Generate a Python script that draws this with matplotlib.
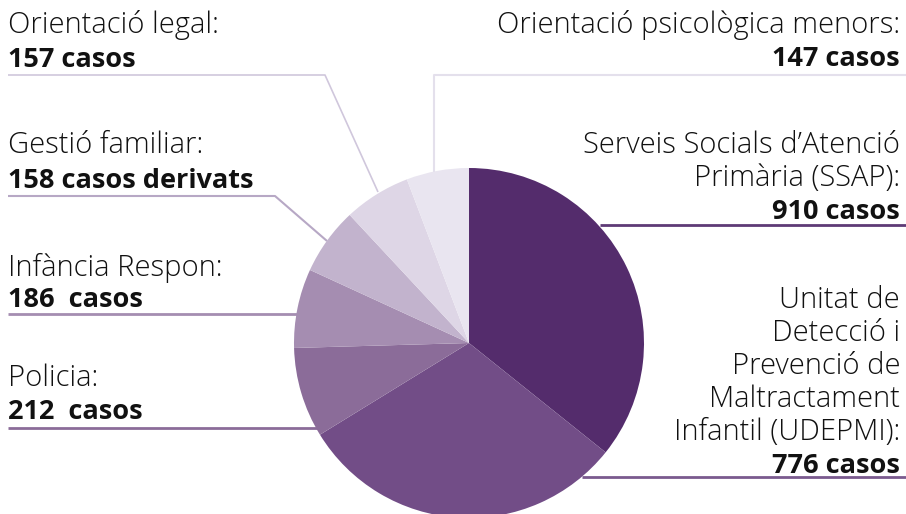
import matplotlib.pyplot as plt

# slices, clockwise from 12 o'clock
labels = ['Serveis Socials d\u2019Atenció Primària (SSAP)',
          'Unitat de Detecció i Prevenció de Maltractament Infantil (UDEPMI)',
          'Policia', 'Infància Respon', 'Gestió familiar',
          'Orientació legal', 'Orientació psicològica menors']
cases = [910, 776, 212, 186, 158, 157, 147]
colors = ['#542C6C', '#724D87', '#8B6C99', '#A58DB1', '#C2B3CD', '#DED6E6', '#E9E5F0']
line_colors = ['#5E3A76', '#7A5A8E', '#8B6C99', '#A58DB1', '#B7A8C5', '#D0C7DC', '#E4E0EC']

W, H = 906, 514
fig = plt.figure(figsize=(W / 100, H / 100), dpi=100)
ax = fig.add_axes([0, 0, 1, 1])

cx, cy, r = 469, H - 343, 175
ax.pie(cases, colors=colors, startangle=90, counterclock=False,
       center=(cx, cy), radius=r, wedgeprops=dict(linewidth=0))
ax.set_xlim(0, W)
ax.set_ylim(0, H)
ax.set_aspect('equal')
ax.axis('off')

font = 'Open Sans'
fs = 21

def y(v):
    return H - v

# leader lines (pixel coords from top)
def line(xs, ys, c, lw=1.5):
    ax.plot(xs, [y(v) for v in ys], color=c, lw=lw, solid_capstyle='butt')

line([906, 600], [225, 225], line_colors[0], 2)
line([906, 582], [477, 477], line_colors[1], 2)
line([8, 320], [428, 428], line_colors[2], 2)
line([8, 297], [314, 314], line_colors[3], 2)
line([8, 275, 327], [196, 196, 241], line_colors[4], 1.5)
line([8, 325, 378], [75, 75, 192], line_colors[5], 1.2)
line([906, 434, 434], [75, 75, 172], line_colors[6], 1.5)

def label(x, ytop, lines, ha, step=34):
    for i, t in enumerate(lines):
        bold = i == len(lines) - 1
        ax.text(x, y(ytop + i * step), t, ha=ha, va='baseline', family=font,
                fontsize=fs - 1.5 if bold else fs,
                fontweight='bold' if bold else 'light', color='#111111')

label(8, 33, ['Orientació legal:', '157 casos'], 'left', step=34)
label(8, 153, ['Gestió familiar:', '158 casos derivats'], 'left', step=35)
label(8, 276, ['Infància Respon:', '186  casos'], 'left', step=31)
label(8, 386, ['Policia:', '212  casos'], 'left', step=33)
label(900, 33, ['Orientació psicològica menors:', '147 casos'], 'right', step=33)
label(900, 153, ['Serveis Socials d\u2019Atenció', 'Primària (SSAP):', '910 casos'], 'right', step=33)
label(900, 308, ['Unitat de', 'Detecció i', 'Prevenció de', 'Maltractament',
                 'Infantil (UDEPMI):', '776 casos'], 'right', step=33)

fig.savefig('out.png', dpi=100)
